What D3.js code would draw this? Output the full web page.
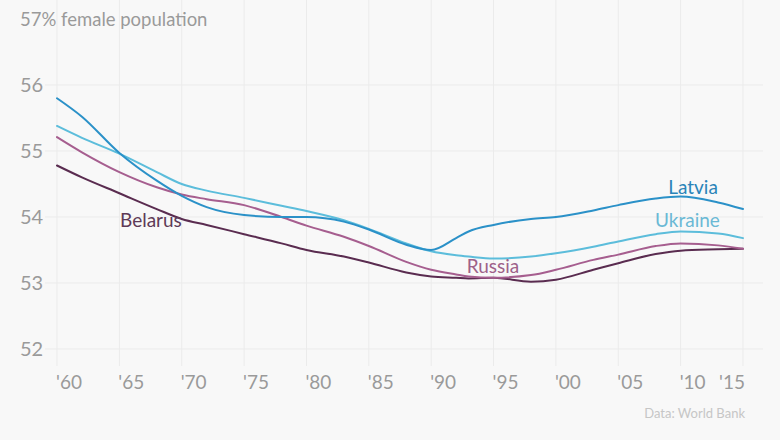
<!DOCTYPE html>
<html>
<head>
<meta charset="utf-8">
<script src="https://cdn.jsdelivr.net/npm/d3@7"></script>
<style>
  html, body { margin: 0; padding: 0; background: #f8f8f8; }
  svg { display: block; }
  text { font-family: Lato, "Open Sans", sans-serif; }
</style>
</head>
<body>
<svg id="chart" width="780" height="440"></svg>
<script>
const years = [1960, 1962, 1965, 1968, 1970, 1972, 1975, 1978, 1980, 1983, 1985, 1988, 1990, 1992, 1993, 1995, 1998, 2000, 2003, 2005, 2008, 2010, 2013, 2015];

const latvia  = [55.80, 55.52, 54.97, 54.55, 54.32, 54.15, 54.03, 54.00, 54.00, 53.93, 53.81, 53.58, 53.50, 53.68, 53.78, 53.88, 53.97, 54.00, 54.10, 54.18, 54.28, 54.31, 54.22, 54.12];
const ukraine = [55.38, 55.20, 54.96, 54.68, 54.50, 54.40, 54.29, 54.17, 54.09, 53.95, 53.82, 53.60, 53.48, 53.42, 53.40, 53.37, 53.40, 53.45, 53.55, 53.63, 53.74, 53.78, 53.75, 53.68];
const russia  = [55.21, 54.98, 54.68, 54.45, 54.34, 54.27, 54.18, 54.00, 53.87, 53.70, 53.56, 53.32, 53.20, 53.13, 53.10, 53.08, 53.12, 53.20, 53.35, 53.43, 53.56, 53.60, 53.57, 53.52];
const belarus = [54.78, 54.60, 54.36, 54.12, 53.97, 53.88, 53.74, 53.60, 53.50, 53.40, 53.31, 53.16, 53.10, 53.08, 53.07, 53.08, 53.02, 53.05, 53.20, 53.30, 53.44, 53.49, 53.51, 53.52];

const seriesNames = ["Belarus", "Russia", "Ukraine", "Latvia"];
const yTicks = [52, 53, 54, 55, 56];
const xTicks = [1960, 1965, 1970, 1975, 1980, 1985, 1990, 1995, 2000, 2005, 2010, 2015];
const xTickLabels = ["'60", "'65", "'70", "'75", "'80", "'85", "'90", "'95", "'00", "'05", "'10", "'15"];
const title = "57% female population";
const source = "Data: World Bank";

const seriesValues = { Belarus: belarus, Russia: russia, Ukraine: ukraine, Latvia: latvia };
const colors = { Latvia: "#2b91c8", Ukraine: "#5cbddb", Russia: "#a65e8f", Belarus: "#5a2c50" };
const labelColors = { Latvia: "#2a84b8", Ukraine: "#6bb9d5", Russia: "#9e6189", Belarus: "#5e3a57" };
const labelPos = { Latvia: [2009.0, 54.35], Ukraine: [2007.95, 53.85], Russia: [1992.85, 53.15], Belarus: [1965.05, 53.85] };

const svg = d3.select("#chart");
const x = d3.scaleLinear().domain([1960, 2015]).range([57, 743]);
const y = d3.scaleLinear().domain([52, 57]).range([349, 19]);

// gridlines
svg.append("g").selectAll("line").data(xTicks).join("line")
  .attr("x1", d => x(d)).attr("x2", d => x(d))
  .attr("y1", 0).attr("y2", 366)
  .attr("stroke", "#ebebeb").attr("stroke-width", 1);
svg.append("g").selectAll("line").data(yTicks).join("line")
  .attr("x1", 45).attr("x2", 763)
  .attr("y1", d => y(d)).attr("y2", d => y(d))
  .attr("stroke", "#ebebeb").attr("stroke-width", 1);

// y labels
svg.append("g").selectAll("text").data(yTicks).join("text")
  .attr("x", 20).attr("y", d => y(d)).attr("dy", "0.36em")
  .attr("font-size", 20).attr("fill", "#9a9a9a")
  .text(d => d);

// title
svg.append("text").attr("x", 20).attr("y", y(57)).attr("dy", "0.36em")
  .attr("font-size", 18.5).attr("fill", "#9a9a9a").text(title);

// x labels
svg.append("g").selectAll("text").data(xTicks).join("text")
  .attr("x", (d, i) => i === xTicks.length - 1 ? x(d) + 2 : x(d) - 1)
  .attr("y", 389)
  .attr("text-anchor", (d, i) => i === xTicks.length - 1 ? "end" : "start")
  .attr("font-size", 19).attr("fill", "#9a9a9a")
  .text((d, i) => xTickLabels[i]);

// lines
const line = d3.line().x(d => x(d[0])).y(d => y(d[1])).curve(d3.curveMonotoneX);
seriesNames.forEach(name => {
  const pts = years.map((yr, i) => [yr, seriesValues[name][i]]);
  svg.append("path").datum(pts)
    .attr("d", line).attr("fill", "none")
    .attr("stroke", colors[name]).attr("stroke-width", 2)
    .attr("stroke-linejoin", "round").attr("stroke-linecap", "round");
});

// series labels
seriesNames.forEach(name => {
  const p = labelPos[name];
  svg.append("text").attr("x", x(p[0])).attr("y", y(p[1]))
    .attr("font-size", 19)
    .attr("fill", labelColors[name]).text(name);
});

// source
svg.append("text").attr("x", 745).attr("y", 418).attr("text-anchor", "end")
  .attr("font-size", 13).attr("fill", "#c6c6c6").text(source);
</script>
</body>
</html>
